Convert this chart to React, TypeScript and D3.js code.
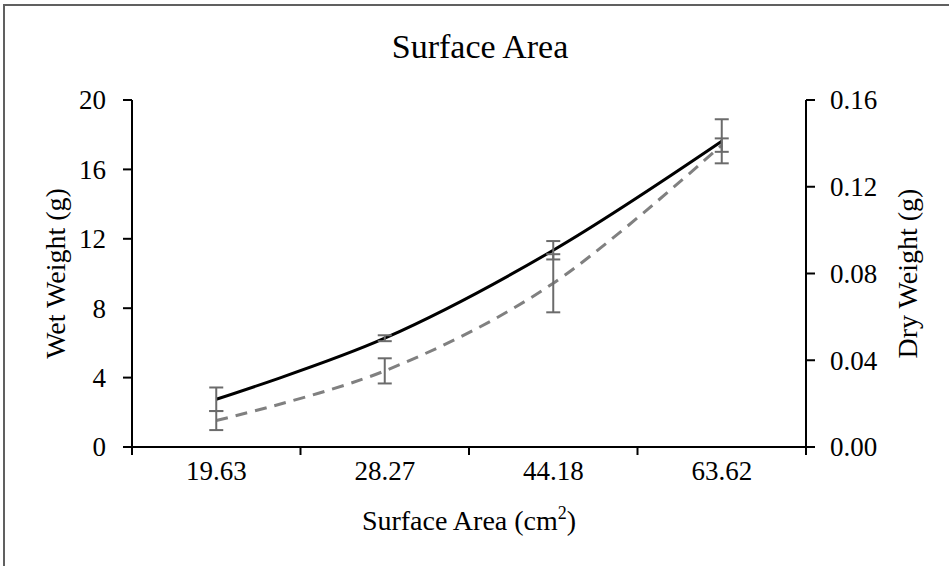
import React from "react";
import * as d3 from "d3";

const categories = ["19.63", "28.27", "44.18", "63.62"];
const wetWeight = [2.75, 6.27, 11.34, 17.62];
const wetErr = [0.68, 0.17, 0.53, 1.27];
const dryWeight = [0.0122, 0.0351, 0.0755, 0.1392];
const dryErr = [0.0044, 0.0058, 0.0134, 0.0031];
const leftTicks = [0, 4, 8, 12, 16, 20];
const rightTicks = [0, 0.04, 0.08, 0.12, 0.16];

const W = 949;
const H = 566;
const L = 132;
const R = 806;
const T = 100;
const B = 447;
const FONT = "'Liberation Serif', 'Times New Roman', serif";

export default function App() {
  const x = d3.scaleBand<string>().domain(categories).range([L, R]).padding(0);
  const cx = (c: string) => (x(c) as number) + x.bandwidth() / 2;
  const yL = d3.scaleLinear().domain([0, 20]).range([B, T]);
  const yR = d3.scaleLinear().domain([0, 0.16]).range([B, T]);

  const wetLine = d3
    .line<number>()
    .x((_, i) => cx(categories[i]))
    .y((d) => yL(d))
    .curve(d3.curveCatmullRom.alpha(0));
  const dryLine = d3
    .line<number>()
    .x((_, i) => cx(categories[i]))
    .y((d) => yR(d))
    .curve(d3.curveCatmullRom.alpha(0));

  const xTickPos = [...categories.map((c) => x(c) as number), R];
  const errColor = "#6b6b6b";
  const cap = 7;

  return (
    <svg
      width={W}
      height={H}
      style={{ position: "absolute", left: 0, top: 0, background: "#fff" }}
      fontFamily={FONT}
    >
      <rect x={0} y={0} width={W} height={H} fill="#fff" />
      <line x1={3} y1={5} x2={W} y2={5} stroke="#606060" strokeWidth={2} />
      <line x1={4} y1={4} x2={4} y2={H} stroke="#606060" strokeWidth={2} />

      <text x={480} y={58} textAnchor="middle" fontSize={34} fill="#000">
        Surface Area
      </text>

      {/* left axis */}
      <line x1={L} y1={T} x2={L} y2={B} stroke="#000" strokeWidth={2} />
      {leftTicks.map((t) => (
        <g key={"l" + t}>
          <line x1={L - 9} x2={L} y1={yL(t)} y2={yL(t)} stroke="#000" strokeWidth={2} />
          <text x={106} y={yL(t)} dy="0.35em" textAnchor="end" fontSize={27} fill="#000">
            {t}
          </text>
        </g>
      ))}
      {/* right axis */}
      <line x1={R} y1={T} x2={R} y2={B} stroke="#000" strokeWidth={2} />
      {rightTicks.map((t) => (
        <g key={"r" + t}>
          <line x1={R} x2={R + 9} y1={yR(t)} y2={yR(t)} stroke="#000" strokeWidth={2} />
          <text x={830} y={yR(t)} dy="0.35em" textAnchor="start" fontSize={27} fill="#000">
            {t.toFixed(2)}
          </text>
        </g>
      ))}
      {/* x axis */}
      <line x1={L - 9} x2={R + 9} y1={B} y2={B} stroke="#000" strokeWidth={2} />
      {xTickPos.map((p, i) => (
        <line key={"xt" + i} x1={p} x2={p} y1={B} y2={B + 8} stroke="#000" strokeWidth={2} />
      ))}
      {categories.map((c) => (
        <text key={"xl" + c} x={cx(c)} y={480} textAnchor="middle" fontSize={27} fill="#000">
          {c}
        </text>
      ))}

      <text x={469} y={530} textAnchor="middle" fontSize={28} fill="#000">
        Surface Area (cm
        <tspan fontSize={18} dy={-11}>2</tspan>
        <tspan dy={11}>)</tspan>
      </text>
      <text
        transform={`translate(65,${(T + B) / 2}) rotate(-90)`}
        textAnchor="middle"
        fontSize={28}
        fill="#000"
      >
        Wet Weight (g)
      </text>
      <text
        transform={`translate(917,${(T + B) / 2}) rotate(-90)`}
        textAnchor="middle"
        fontSize={28}
        fill="#000"
      >
        Dry Weight (g)
      </text>

      {/* lines */}
      <path d={dryLine(dryWeight) || ""} fill="none" stroke="#808080" strokeWidth={3} strokeDasharray="12,8" />
      <path d={wetLine(wetWeight) || ""} fill="none" stroke="#000" strokeWidth={3} />

      {/* error bars */}
      {categories.map((c, i) => {
        const px = cx(c);
        const bars = [
          [yL(wetWeight[i] + wetErr[i]), yL(wetWeight[i] - wetErr[i])],
          [yR(dryWeight[i] + dryErr[i]), yR(dryWeight[i] - dryErr[i])],
        ];
        return (
          <g key={"e" + c}>
            {bars.map(([y1, y2], k) => (
              <g key={k}>
                <line x1={px} x2={px} y1={y1} y2={y2} stroke={errColor} strokeWidth={2} />
                <line x1={px - cap} x2={px + cap} y1={y1} y2={y1} stroke={errColor} strokeWidth={2} />
                <line x1={px - cap} x2={px + cap} y1={y2} y2={y2} stroke={errColor} strokeWidth={2} />
              </g>
            ))}
          </g>
        );
      })}
    </svg>
  );
}
